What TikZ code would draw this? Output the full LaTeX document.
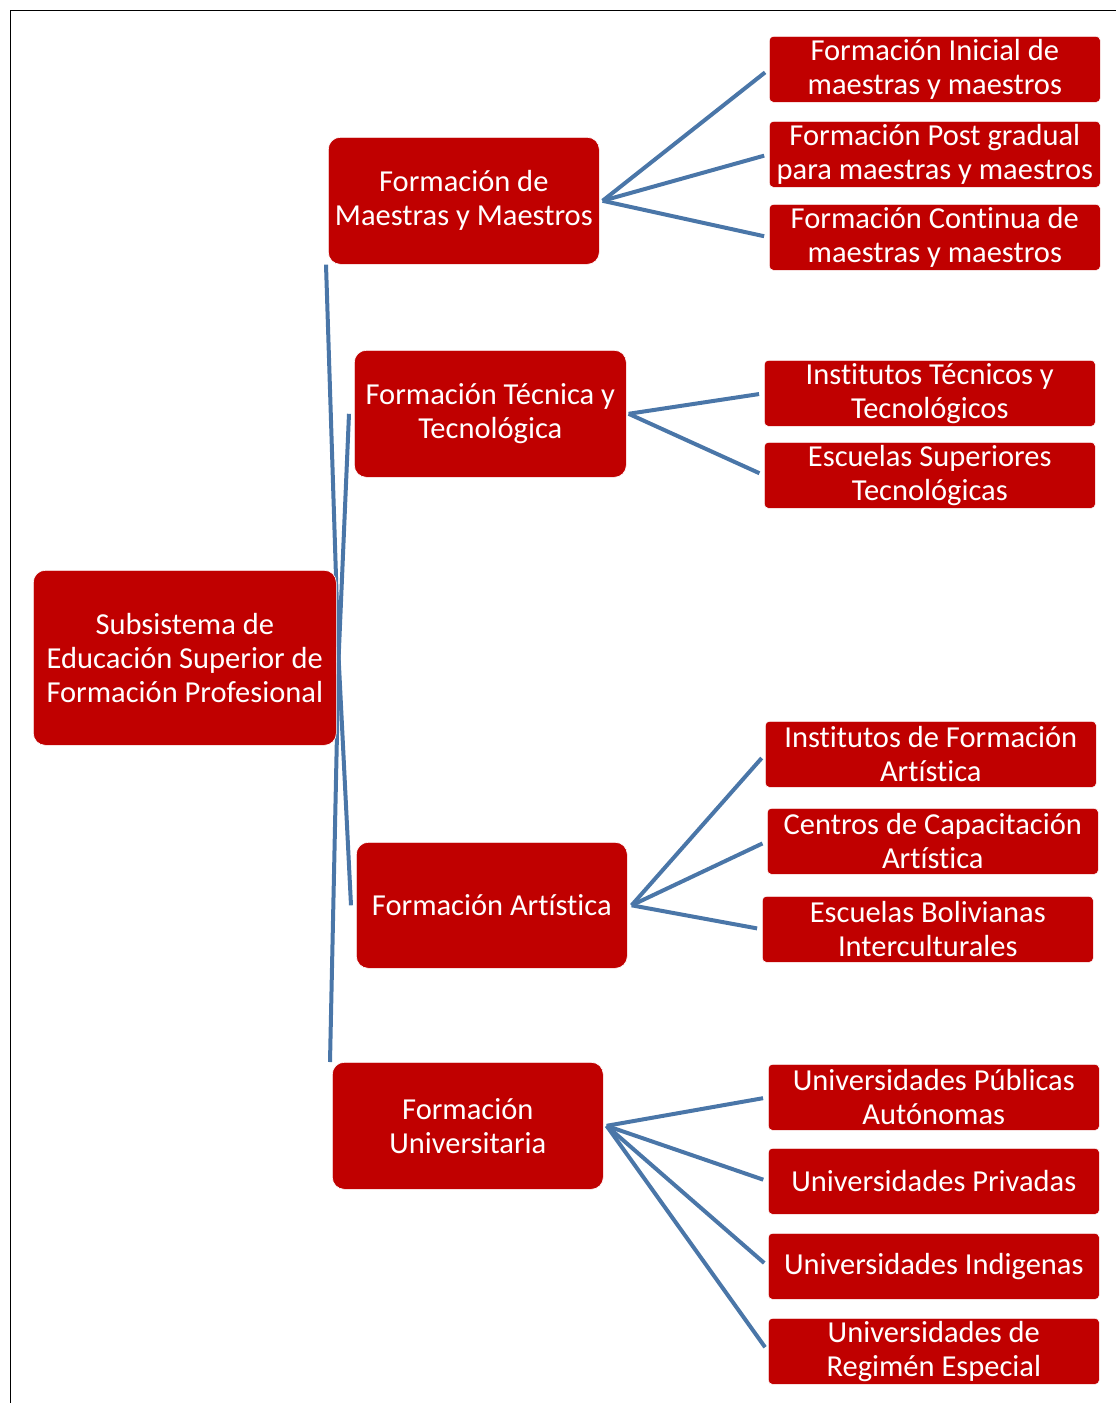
\documentclass[tikz,border=0pt]{standalone}
\usepackage{fontspec}
\setmainfont[Ligatures={NoCommon}]{Carlito}
\usetikzlibrary{backgrounds}
\definecolor{myred}{RGB}{192,0,0}
\definecolor{lineblue}{RGB}{74,118,168}
\tikzset{
  bigbox/.style={fill=myred, draw=white, line width=0.6pt, rounded corners=12pt, text=white, align=center,
    font=\fontsize{30.5}{34}\selectfont, inner sep=0pt, anchor=north west},
  smallbox/.style={fill=myred, draw=white, line width=0.6pt, rounded corners=4pt, text=white, align=center,
    font=\fontsize{30.5}{34}\selectfont, inner sep=0pt, anchor=north west,
    minimum width=331pt, minimum height=66pt},
  conn/.style={draw=lineblue, line width=4pt},
  frameline/.style={draw=black, line width=1pt}
}
\begin{document}
\begin{tikzpicture}[x=1pt,y=-1pt]
\useasboundingbox (0,0) rectangle (1116,1403);
\coordinate (ftl) at (10,10);
\coordinate (ftr) at (1116,10);
\coordinate (fbl) at (10,1403);
\draw[frameline] (ftr) -- (ftl) -- (fbl);

% root
\node[bigbox, minimum width=303pt, minimum height=175pt] (r) at (33,570) {Subsistema de\\Educación Superior de\\Formación Profesional};
% level 1
\node[bigbox, minimum width=271pt, minimum height=127pt] (m) at (328,137) {Formación de\\Maestras y Maestros};
\node[bigbox, minimum width=272pt, minimum height=127pt] (t) at (354,350) {Formación Técnica y\\Tecnológica};
\node[bigbox, minimum width=271pt, minimum height=126pt] (a) at (356,842) {Formación Artística};
\node[bigbox, minimum width=271pt, minimum height=127pt] (u) at (332,1062) {Formación\\Universitaria};
% level 2
\node[smallbox] (m1) at (769,36) {Formación Inicial de\\maestras y maestros};
\node[smallbox] (m2) at (769,121) {Formación Post gradual\\para maestras y maestros};
\node[smallbox] (m3) at (769,204) {Formación Continua de\\maestras y maestros};
\node[smallbox] (t1) at (764,360) {Institutos Técnicos y\\Tecnológicos};
\node[smallbox] (t2) at (764,442) {Escuelas Superiores\\Tecnológicas};
\node[smallbox] (a1) at (765,721) {Institutos de Formación\\Artística};
\node[smallbox] (a2) at (767,808) {Centros de Capacitación\\Artística};
\node[smallbox] (a3) at (762,896) {Escuelas Bolivianas\\Interculturales};
\node[smallbox] (u1) at (768,1064) {Universidades Públicas\\Autónomas};
\node[smallbox] (u2) at (768,1148) {Universidades Privadas};
\node[smallbox] (u3) at (768,1233) {Universidades Indigenas};
\node[smallbox] (u4) at (768,1318) {Universidades de\\Regimén Especial};

\begin{scope}[on background layer]
\draw[conn] ([xshift=2pt]r.east) -- ([xshift=-2pt]m.south west);
\draw[conn] ([xshift=2pt]r.east) -- ([xshift=-5pt]t.west);
\draw[conn] ([xshift=2pt]r.east) -- ([xshift=-5pt]a.west);
\draw[conn] ([xshift=2pt]r.east) -- ([xshift=-2pt]u.north west);
\foreach \c in {m1,m2,m3} \draw[conn, shorten >=5pt] ([xshift=3pt]m.east) -- (\c.west);
\foreach \c in {t1,t2} \draw[conn, shorten >=5pt] ([xshift=2pt]t.east) -- (\c.west);
\foreach \c in {a1,a2,a3} \draw[conn, shorten >=5pt] ([xshift=4pt]a.east) -- (\c.west);
\foreach \c in {u1,u2,u3,u4} \draw[conn, shorten >=5pt] ([xshift=3pt]u.east) -- (\c.west);
\end{scope}
\end{tikzpicture}
\end{document}
